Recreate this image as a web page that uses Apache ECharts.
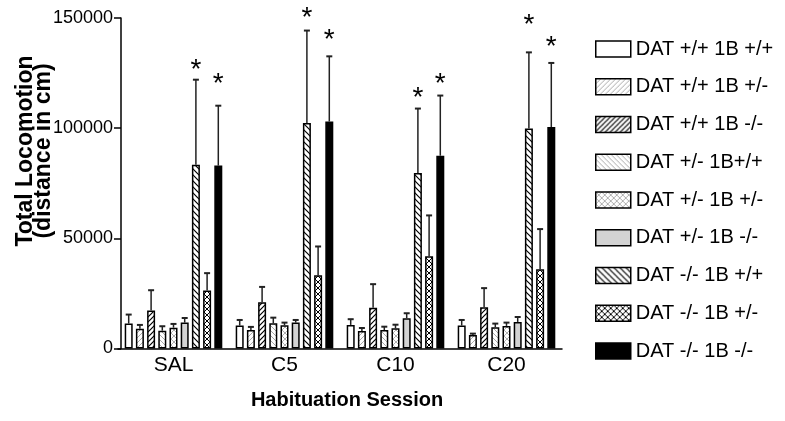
<!DOCTYPE html>
<html><head><meta charset="utf-8">
<script src="https://cdn.jsdelivr.net/npm/echarts@6/dist/echarts.min.js"></script>
<style>html,body{margin:0;padding:0;background:#fff}#c{width:785px;height:421px}</style>
</head><body><div id="c"></div>
<script>
var categories = ['SAL', 'C5', 'C10', 'C20'];
var seriesNames = ['DAT +/+ 1B +/+', 'DAT +/+ 1B +/-', 'DAT +/+ 1B -/-', 'DAT +/- 1B+/+', 'DAT +/- 1B +/-', 'DAT +/- 1B -/-', 'DAT -/- 1B +/+', 'DAT -/- 1B +/-', 'DAT -/- 1B -/-'];
var yTicks = [0, 50000, 100000, 150000];
var m1 = [11300, 10400, 10700, 10400];   var e1 = [4100, 2550, 2600, 2550];
var m2 = [9000, 8400, 7950, 6150];       var e2 = [1700, 1400, 1350, 600];
var m3 = [17200, 21000, 18550, 18700];   var e3 = [9250, 6950, 10650, 8700];
var m4 = [8100, 11450, 8400, 9650];      var e4 = [2000, 2550, 1500, 1650];
var m5 = [9450, 10550, 9200, 10250];     var e5 = [1700, 1200, 1600, 1500];
var m6 = [11750, 11750, 13750, 12050];   var e6 = [2100, 1200, 2250, 2250];
var m7 = [83400, 102400, 79700, 99800];  var e7 = [38600, 41900, 29200, 34600];
var m8 = [26300, 33300, 41900, 36000];   var e8 = [7900, 13000, 18500, 18200];
var m9 = [83000, 103000, 87500, 100500]; var e9 = [27200, 29600, 27300, 29100];
// significance asterisks: [category index, series index, level]
var stars = [[0, 6, 128900], [0, 8, 122500], [1, 6, 152500], [1, 8, 142500], [2, 6, 116100], [2, 8, 122500], [3, 6, 149300], [3, 8, 139300]];

var means = [m1, m2, m3, m4, m5, m6, m7, m8, m9];
var errs = [e1, e2, e3, e4, e5, e6, e7, e8, e9];

function pat(type, color, s, lw) {
  var c = document.createElement('canvas');
  c.width = s; c.height = s;
  var x = c.getContext('2d');
  x.fillStyle = '#fff'; x.fillRect(0, 0, s, s);
  x.strokeStyle = color; x.lineWidth = lw;
  x.beginPath();
  if (type === '/' || type === 'x') {
    x.moveTo(0, s); x.lineTo(s, 0);
    x.moveTo(-1, 1); x.lineTo(1, -1);
    x.moveTo(s - 1, s + 1); x.lineTo(s + 1, s - 1);
  }
  if (type === '\\' || type === 'x') {
    x.moveTo(0, 0); x.lineTo(s, s);
    x.moveTo(-1, s - 1); x.lineTo(1, s + 1);
    x.moveTo(s - 1, -1); x.lineTo(s + 1, 1);
  }
  x.stroke();
  return { image: c, repeat: 'repeat' };
}
var fills = [
  '#ffffff',
  pat('/', '#a8a8a8', 5, 1),
  pat('/', '#000000', 5, 1.2),
  pat('\\', '#a8a8a8', 5, 1),
  pat('x', '#b0b0b0', 6, 1),
  '#d3d3d3',
  pat('\\', '#000000', 6, 1.2),
  pat('x', '#000000', 6, 1),
  '#000000'
];

var BW = 8, GAP = 0.4;
function offsetOf(i) {
  var total = 9 * BW + 8 * BW * GAP;
  return -total / 2 + i * BW * (1 + GAP) + BW / 2;
}

var series = [];
for (var i = 0; i < 9; i++) {
  series.push({
    type: 'bar', name: seriesNames[i], data: means[i],
    barWidth: BW, barGap: (GAP * 100) + '%',
    itemStyle: { color: fills[i], borderColor: '#000', borderWidth: 1.5 },
    emphasis: { disabled: true }, z: 2
  });
}
var errData = [];
for (var s = 0; s < 9; s++) for (var k = 0; k < 4; k++) errData.push([k, means[s][k], means[s][k] + errs[s][k], s]);
series.push({
  type: 'custom', silent: true, z: 3,
  data: errData,
  encode: { x: 0, y: 2 },
  renderItem: function (params, api) {
    var cat = api.value(0), mv = api.value(1), tv = api.value(2), si = api.value(3);
    var base = api.coord([cat, mv]);
    var top = api.coord([cat, tv]);
    var x = base[0] + offsetOf(si);
    return { type: 'group', children: [
      { type: 'line', shape: { x1: x, y1: base[1], x2: x, y2: top[1] }, style: { stroke: '#222', lineWidth: 1.5 } },
      { type: 'line', shape: { x1: x - 3, y1: top[1], x2: x + 3, y2: top[1] }, style: { stroke: '#222', lineWidth: 2 } }
    ]};
  }
});
series.push({
  type: 'custom', silent: true, z: 4,
  data: stars.map(function (d) { return [d[0], d[2], d[1]]; }),
  encode: { x: 0, y: 1 },
  renderItem: function (params, api) {
    var p = api.coord([api.value(0), api.value(1)]);
    var x = p[0] + offsetOf(api.value(2));
    return { type: 'text', x: x, y: p[1] + 6, style: { text: '*', fill: '#000', font: '28px "Liberation Sans", Arial, sans-serif', textAlign: 'center', textVerticalAlign: 'middle' } };
  }
});

var chart = echarts.init(document.getElementById('c'), null, { renderer: 'canvas' });
chart.setOption({
  animation: false,
  backgroundColor: '#fff',
  textStyle: { fontFamily: '"Liberation Sans", Arial, sans-serif' },
  grid: { left: 118, top: 18, width: 444, bottom: 72.5 },
  legend: {
    orient: 'vertical', left: 590, top: 33, itemWidth: 35, itemHeight: 16, itemGap: 15.75,
    selectedMode: false, icon: 'rect',
    data: seriesNames,
    itemStyle: { borderColor: '#000', borderWidth: 1.5 },
    textStyle: { fontSize: 20, lineHeight: 22, color: '#000', fontFamily: '"Liberation Sans", Arial, sans-serif' }
  },
  xAxis: {
    type: 'category', data: categories,
    axisLine: { lineStyle: { color: '#000', width: 1.5 } },
    axisTick: { show: false },
    axisLabel: { color: '#000', fontSize: 21, margin: 6 }
  },
  yAxis: {
    type: 'value', min: yTicks[0], max: yTicks[yTicks.length - 1], interval: yTicks[1] - yTicks[0],
    offset: -3,
    axisLine: { show: true, lineStyle: { color: '#000', width: 1.5 } },
    axisTick: { show: true, length: 7, lineStyle: { color: '#000', width: 1.5 } },
    splitLine: { show: false },
    axisLabel: { color: '#000', fontSize: 18, margin: 8, formatter: function (v) { return String(v); } }
  },
  graphic: [
    { type: 'text', x: 35, y: 151, rotation: Math.PI / 2,
      style: { text: 'Total Locomotion\n(distance in cm)', font: 'bold 23px "Liberation Sans", Arial, sans-serif', lineHeight: 18, fill: '#000', textAlign: 'center', textVerticalAlign: 'middle' } },
    { type: 'text', x: 347, y: 400,
      style: { text: 'Habituation Session', font: 'bold 20px "Liberation Sans", Arial, sans-serif', fill: '#000', textAlign: 'center', textVerticalAlign: 'middle' } }
  ],
  series: series
});
</script></body></html>
